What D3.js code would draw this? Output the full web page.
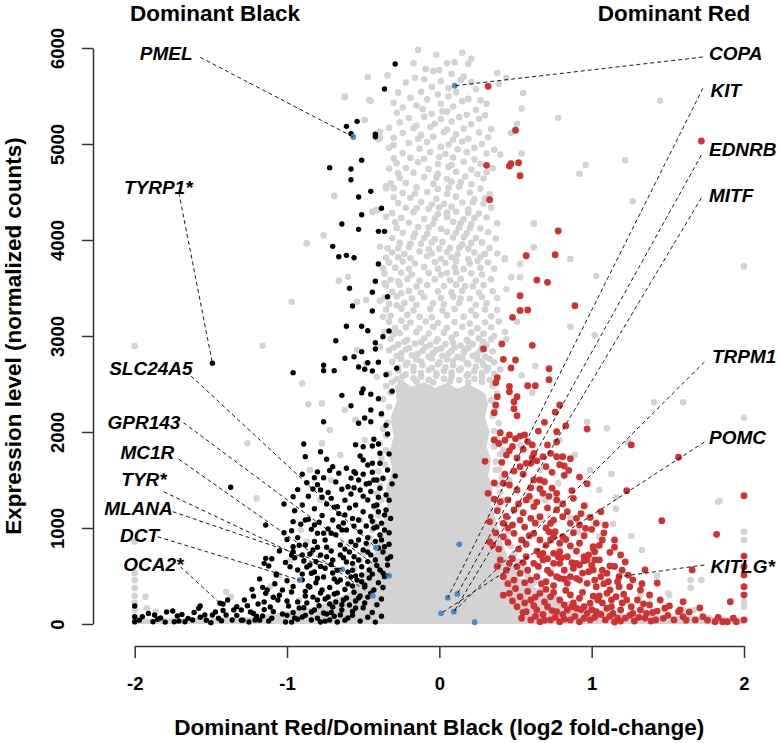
<!DOCTYPE html>
<html><head><meta charset="utf-8">
<script src="https://cdn.jsdelivr.net/npm/d3@7"></script>
<style>body{margin:0;background:#fff;} svg{display:block;font-family:"Liberation Sans",Arial,Helvetica,sans-serif;}</style>
</head><body><svg id="chart" width="780" height="743"></svg>
<script>
// ---------- data (x = log2 fold-change, y = normalized counts) ----------
const xTicks = [-2, -1, 0, 1, 2];
const yTicks = [0, 1000, 2000, 3000, 4000, 5000, 6000];
const groupTitles = ["Dominant Black", "Dominant Red"];

// outline of the region where grey (non-significant) genes overlap completely
const grayDenseOutline = [[-0.29,2480],[-0.24,2530],[-0.18,2470],[-0.10,2520],[-0.03,2460],[0.05,2510],[0.12,2450],[0.19,2500],[0.26,2440],[0.30,2400],[0.32,2300],[0.30,2150],[0.33,2000],[0.31,1850],[0.34,1700],[0.32,1550],[0.35,1400],[0.34,1250],[0.37,1100],[0.39,950],[0.42,820],[0.46,650],[0.53,479],[0.792,219],[1.186,104],[2.0,62],[2.0,0],[-2.0,0],[-2.0,52],[-1.243,73],[-0.784,188],[-0.587,333],[-0.455,615],[-0.40,850],[-0.37,1031],[-0.34,1250],[-0.35,1420],[-0.31,1600],[-0.33,1780],[-0.30,1950],[-0.32,2150],[-0.28,2320]];

const grayPoints = [
// upper cloud
[-0.14,5980],[-0.02,5930],[0.15,5950],[0.21,5890],[-0.17,5840],[0.05,5840],[0.10,5850],[0.19,5835],
[-0.09,5780],[-0.04,5760],[0.00,5770],[0.38,5740],
[-0.34,5715],[0.08,5730],[0.16,5700],[-0.47,5695],[-0.16,5690],[-0.10,5675],[0.44,5690],
[-0.22,5640],[0.01,5655],[0.14,5665],[0.21,5645],[0.39,5625],
[-0.05,5595],[0.06,5580],[0.24,5570],[-0.27,5535],[-0.12,5545],[-0.01,5515],[0.11,5540],[0.55,5530],
[-0.19,5480],[-0.08,5465],[0.06,5495],[0.19,5470],[-0.62,5490],[0.27,5455],
[-0.30,5430],[0.01,5420],[0.15,5445],[0.31,5420],[-0.45,5450],[-0.15,5400],
[-0.24,5380],[-0.11,5365],[0.09,5390],[0.24,5355],[0.54,5370],[0.02,5340],
[-0.28,5325],[-0.05,5315],[0.05,5335],[0.18,5305],[0.30,5300],
[-0.20,5270],[-0.10,5285],[0.01,5260],[0.13,5280],[0.26,5260],
[-0.26,5225],[-0.03,5210],[0.08,5235],[0.21,5205],[0.51,5210],[-0.49,5250],[-0.15,5190],
[-0.33,5170],[-0.17,5165],[-0.06,5180],[0.16,5160],[0.34,5155],[0.05,5150],
[-0.24,5115],[0.03,5125],[0.11,5100],[0.26,5120],[0.47,5115],[-0.39,5130],[-0.12,5095],
[-0.30,5065],[-0.14,5055],[-0.04,5075],[0.19,5055],[0.32,5070],[-0.40,5050],[0.09,5045],
[-0.20,5010],[-0.08,5020],[0.06,4995],[0.15,5025],[0.28,5000],[-0.30,4990],
[-0.33,4960],[-0.13,4950],[0.01,4970],[0.12,4945],[0.23,4960],[0.36,4940],
[-0.24,4905],[-0.06,4915],[0.04,4895],[0.18,4915],[0.31,4900],[0.40,4890],[0.54,4900],
[-0.19,4855],[-0.10,4845],[0.09,4860],[0.23,4840],[-0.30,4850],[0.00,4865],
[-0.28,4800],[-0.14,4810],[-0.01,4790],[0.16,4815],[0.27,4795],[0.08,4780],
[-0.22,4750],[-0.07,4740],[0.06,4760],[0.21,4735],[0.35,4750],[-0.33,4745],
[-0.17,4700],[-0.01,4690],[0.11,4710],[0.25,4685],[0.31,4705],[-0.27,4695],
[-0.26,4645],[-0.10,4655],[0.05,4635],[0.17,4660],[0.29,4640],[-0.02,4650],
[-0.22,4595],[-0.04,4585],[0.08,4605],[0.21,4580],[-0.32,4590],[0.14,4600],
[-0.30,4540],[-0.15,4550],[-0.01,4530],[0.13,4555],[0.27,4535],[-0.35,4560],[0.06,4545],
[-0.24,4490],[-0.08,4500],[0.05,4480],[0.20,4495],[0.33,4475],[-0.16,4485],
[-0.19,4440],[-0.02,4430],[0.11,4450],[0.23,4425],[-0.69,4460],[-0.30,4445],[0.30,4435],
[-0.27,4385],[-0.12,4395],[0.03,4375],[0.15,4390],[0.29,4380],[-0.05,4370],[0.22,4390],
[-0.22,4335],[-0.07,4325],[0.08,4345],[0.19,4320],[0.34,4335],[-0.15,4330],[0.00,4340],
[-0.31,4280],[-0.17,4290],[-0.01,4270],[0.11,4295],[0.26,4275],[-0.44,4295],[-0.41,4310],[0.05,4285],[0.19,4280],
[-0.25,4230],[-0.10,4220],[0.05,4240],[0.16,4215],[0.31,4235],[-0.35,4242],[-0.03,4225],[0.23,4230],
[-0.20,4180],[-0.04,4170],[0.09,4190],[0.21,4165],[0.38,4175],[0.62,4170],[-0.29,4185],[0.14,4175],
[-0.28,4125],[-0.14,4135],[0.01,4115],[0.13,4130],[0.27,4120],[-0.07,4130],[0.20,4125],
[-0.24,4075],[-0.08,4065],[0.05,4085],[0.18,4070],[0.32,4080],[-0.76,4050],[-0.16,4070],[0.11,4075],
[-0.31,4020],[-0.17,4030],[-0.03,4010],[0.09,4025],[0.24,4020],[0.37,4015],[-0.10,4020],[0.16,4030],
[-0.26,3970],[-0.12,3960],[0.02,3980],[0.15,3955],[0.28,3975],[-0.87,3965],[-0.05,3975],[0.21,3970],[-0.19,3960],
[-0.34,3915],[-0.20,3925],[-0.07,3905],[0.07,3920],[0.19,3910],[0.33,3915],[-0.39,3930],[0.62,3925],[0.00,3910],[0.13,3920],[-0.27,3915],
[-0.31,3870],[-0.23,3855],[-0.13,3880],[-0.05,3860],[0.05,3875],[0.12,3850],[0.23,3870],[0.30,3855],[0.38,3860],
[-0.27,3820],[-0.19,3810],[-0.08,3830],[0.01,3805],[0.08,3820],[0.19,3800],[0.27,3825],[0.43,3800],[-0.35,3815],
[-0.33,3765],[-0.24,3775],[-0.16,3755],[-0.03,3770],[0.04,3760],[0.11,3780],[0.20,3755],[0.32,3765],[0.53,3750],[0.25,3780],
[-0.29,3710],[-0.20,3700],[-0.10,3720],[-0.01,3700],[0.10,3715],[0.16,3695],[0.27,3710],[0.36,3700],[-0.37,3705],
[-0.36,3650],[-0.25,3660],[-0.18,3640],[-0.07,3655],[0.01,3640],[0.11,3665],[0.21,3650],[0.28,3640],[0.47,3611],[0.05,3655],
[-0.32,3585],[-0.21,3595],[-0.13,3575],[-0.03,3590],[0.07,3580],[0.14,3595],[0.24,3575],[0.34,3590],[-0.27,3570],
[-0.35,3525],[-0.26,3535],[-0.15,3515],[-0.08,3530],[0.03,3520],[0.11,3535],[0.22,3515],[0.29,3530],[0.44,3487],[0.17,3520],
[-0.31,3460],[-0.20,3470],[-0.12,3450],[-0.01,3465],[0.08,3455],[0.15,3470],[0.26,3450],[0.35,3465],[-0.25,3445],
[-0.36,3400],[-0.28,3410],[-0.18,3390],[-0.10,3405],[0.01,3395],[0.09,3410],[0.20,3390],[0.28,3405],[0.38,3395],[0.14,3390],
[-0.33,3335],[-0.23,3345],[-0.15,3325],[-0.04,3340],[0.03,3330],[0.13,3345],[0.24,3325],[0.31,3340],[-0.28,3320],
[-0.35,3275],[-0.25,3285],[-0.17,3265],[-0.06,3280],[0.02,3265],[0.10,3280],[0.21,3265],[0.30,3275],[0.38,3270],
[-0.32,3210],[-0.21,3220],[-0.13,3200],[0.05,3215],[0.16,3200],[0.24,3215],[0.34,3205],[-0.37,3200],[-0.05,3195],
[-0.33,3150],[-0.25,3160],[0.30,3140],[0.39,3150],[-0.29,3083],[0.34,3090],[-0.30,3020],[0.36,3000],
[-0.19,3140],[-0.09,3150],[-0.01,3135],[0.10,3145],[0.20,3130],
[-0.22,3090],[-0.13,3080],[-0.04,3095],[0.05,3085],[0.15,3095],[0.25,3080],
[-0.26,3030],[-0.15,3040],[-0.07,3025],[0.03,3035],[0.11,3020],[0.21,3035],[0.29,3025],
[-0.32,2970],[-0.21,2960],[-0.10,2975],[-0.01,2965],[0.08,2980],[0.18,2960],[0.26,2975],[0.34,2965],
[-0.23,2940],[-0.12,2935],[-0.02,2945],[0.09,2930],[0.19,2940],[0.29,2935],
[-0.27,2910],[-0.16,2920],[-0.06,2905],[0.04,2915],[0.14,2900],[0.22,2915],[0.31,2905],
[-0.30,2880],[-0.20,2875],[-0.09,2885],[0.01,2870],[0.10,2880],[0.19,2875],[0.28,2885],
[-0.33,2850],[-0.22,2860],[-0.11,2845],[-0.02,2855],[0.08,2845],[0.17,2860],[0.27,2850],[0.35,2840],
[-0.25,2820],[-0.14,2815],[-0.04,2825],[0.06,2815],[0.16,2825],[0.25,2815],
[-0.28,2790],[-0.18,2800],[-0.07,2785],[0.02,2795],[0.12,2780],[0.22,2795],[0.30,2785],
[-0.25,2760],[-0.15,2755],[-0.05,2765],[0.05,2755],[0.15,2765],[0.25,2755],[0.33,2760],
[-0.31,2730],[-0.21,2720],[-0.12,2735],[0.00,2725],[0.09,2740],[0.18,2720],[0.28,2735],[0.36,2725],
[-0.22,2700],[-0.11,2695],[-0.01,2705],[0.09,2695],[0.19,2705],[0.29,2695],
[-0.27,2670],[-0.17,2680],[-0.05,2665],[0.04,2675],[0.14,2660],[0.24,2680],[0.32,2665],
[-0.27,2640],[-0.17,2635],[-0.07,2645],[0.03,2635],[0.13,2645],[0.23,2635],[0.31,2640],
[-0.33,2610],[-0.22,2600],[-0.12,2615],[-0.02,2605],[0.08,2620],[0.19,2600],[0.28,2615],[0.36,2605],
[-0.24,2580],[-0.12,2575],[-0.02,2585],[0.08,2575],[0.18,2585],[0.28,2575],
[-0.28,2550],[-0.17,2560],[-0.07,2545],[0.03,2555],[0.13,2540],[0.23,2555],[0.33,2545],
[-0.31,2520],[-0.25,2515],[-0.15,2525],[-0.04,2515],[0.07,2525],[0.19,2515],[0.28,2520],
// edges of the dense core
[-0.35,2480],[-0.32,2410],[-0.37,2340],[-0.33,2260],[-0.38,2180],[-0.34,2100],[-0.37,2030],[-0.35,1960],
[-0.39,1880],[-0.35,1810],[-0.38,1730],[-0.36,1660],[-0.40,1590],[-0.37,1510],[-0.39,1440],[-0.41,1360],
[-0.38,1290],[-0.42,1210],[-0.40,1130],[-0.43,1060],[-0.44,980],[-0.46,900],[-0.47,820],[-0.50,740],[-0.52,660],[-0.56,580],
[0.35,2480],[0.38,2400],[0.34,2330],[0.37,2250],[0.35,2170],[0.39,2090],[0.36,2010],[0.38,1930],
[0.36,1850],[0.40,1770],[0.37,1690],[0.39,1610],[0.41,1530],[0.38,1450],[0.40,1370],[0.42,1290],
[0.39,1210],[0.43,1130],[0.41,1050],[0.45,970],[0.44,890],[0.47,810],[0.49,730],[0.52,650],[0.55,570],
[0.58,500],[0.62,430],[0.67,355],[0.75,285],[0.85,205],[0.96,155],[1.08,120],
// left periphery
[-2.00,2895],[-1.16,2898],[-0.97,3357],[-0.66,3575],[-0.60,3617],[-0.90,2506],[-0.86,2288],[-0.77,2298],
[-1.26,1882],[-0.77,1882],[-0.71,1500],[-1.20,1309],[-0.54,2853],[-0.48,2715],[-0.41,2575],[-0.39,2888],
[-0.36,3044],[-0.48,3375],[-0.39,3367],[-0.36,3548],[-0.54,3357],[-0.69,4458],[-0.44,4294],[-0.41,4313],
[-0.87,3966],[-0.35,4538],[-0.62,5493],[-0.49,5250],[-0.46,5458],[-0.39,5070],
[-2.00,857],[-2.00,531],[-2.00,458],[-2.00,375],[-2.00,292],[-2.00,219],[-2.00,146],[-2.00,73],[-2.00,21],
[-1.93,284],[-1.92,164],[-1.86,128],[-1.40,336],[-1.37,284],[-1.11,389],[-0.91,979],[-0.87,857],
[-1.81,30],[-1.75,30],[-1.68,30],[-1.59,30],[-1.49,30],[-1.31,30],[-1.14,30],[-1.04,30],
[-0.72,2020],[-0.55,2125],[-0.62,2230],[-0.49,1917],[-0.65,1760],[-0.78,1292],[-0.85,1604],[-0.52,1083],
[-0.98,667],[-1.05,510],[-0.92,250],
// right periphery
[1.45,5451],[0.78,5274],[0.96,4781],[0.92,4690],[1.22,4830],[1.27,4406],[0.62,4173],[0.86,3802],
[0.43,3809],[1.03,3625],[2.00,3726],[0.53,3611],[0.53,3750],[0.86,3097],[1.02,3007],[0.51,3149],
[0.43,3042],[0.44,2966],[0.63,2688],[0.54,2591],[0.61,2409],[0.40,2653],[1.41,2309],[1.60,2309],
[2.00,2149],[0.97,2107],[1.10,2038],[1.24,1893],[1.13,1563],[1.16,1320],[1.16,1201],[1.14,1042],
[1.84,1284],[2.00,961],[2.00,875],[1.26,917],[1.33,771],[1.03,1066],[1.05,909],[0.91,961],
[0.86,1101],[0.67,1083],[0.78,1466],[1.43,503],[1.65,458],[1.72,458],[1.51,302],[1.67,146],
[1.32,302],[2.00,232],[2.00,180],[1.60,146],[1.77,59],[1.65,378],[1.50,320],[1.83,1274],
[0.66,1604],[0.89,1760],[0.99,1604],[0.79,1917],[0.69,1292],[1.05,1396],[0.96,1240],[0.53,1865],
[0.46,1500],[0.60,1292],[0.37,1604],[0.42,1813]
];

const blackPoints = [
[-0.29,5833],[-0.36,5573],[-0.54,5236],[-0.61,5184],[-0.58,5107],[-0.42,5101],[-0.42,5076],[-0.51,4830],
[-0.72,4753],[-0.58,4739],[-0.58,4628],[-0.45,4507],[-0.53,4448],[-0.38,4330],[-0.51,4263],[-0.64,4167],
[-0.53,4111],[-0.40,4090],[-0.36,4090],[-0.70,3934],
[-0.66,3826],[-0.61,3840],[-0.56,3815],[-0.40,3750],[-0.42,3570],[-0.59,3497],[-0.44,3455],[-0.34,3409],
[-0.57,3312],[-0.44,3260],[-0.61,3101],[-0.51,3101],[-0.47,3055],[-0.33,3052],[-0.37,2993],[-0.68,2951],
[-0.42,2930],[-0.42,2865],[-0.51,2837],[-0.62,2768],[-0.56,2784],[-0.47,2722],[-0.40,2726],[-0.76,2695],
[-0.53,2677],[-0.49,2653],[-0.44,2635],[-0.28,2664],[-0.76,2639],[-0.69,2639],[-0.96,2618],[-0.35,2597],
[-0.50,2448],[-0.45,2393],[-0.40,2347],[-0.31,2424],[-0.64,2382],[-0.58,2274],[-0.45,2229],[-0.38,2191],
[-0.49,2146],[-0.45,2107],[-0.53,2091],[-0.76,2107],[-0.35,2070],[-0.34,1979],[-0.43,1924],[-0.89,1875],
[-0.55,1868],[-0.50,1847],[-0.44,1854],[-0.40,1875],[-0.51,2409],
[-0.88,1743],[-0.78,1795],[-0.74,1716],[-0.82,1524],[-0.76,1524],[-0.70,1639],[-0.66,1570],[-0.56,1587],
[-0.60,1430],[-0.64,1403],[-0.87,1472],[-0.83,1406],[-0.77,1320],[-0.96,1326],[-1.37,1424],[-0.50,1708],
[-0.44,1674],[-0.39,1674],[-0.43,1500],[-0.37,1518],[-0.39,1414],[-0.35,1344],
[-1.14,1031],[-0.96,1066],[-0.97,972],[-0.96,753],[-1.14,684],[-1.12,604],[-1.07,510],[-1.42,208],
[-1.23,361],[-1.16,382],[-1.13,354],[-1.09,278],[-2.00,188],[-2.00,76],[-2.00,24],[-1.95,76],
[-1.87,94],[-1.88,24],[-1.75,135],[-1.74,24],[-1.65,59],[-1.67,24],[-1.62,42],[-1.58,164],
[-1.57,70],[-1.54,94],[-1.49,94],[-1.50,14],[-1.43,34],[-1.35,146],[-1.33,180],[-1.30,146],
[-0.71,1309],[-0.69,1216],[-0.84,986],[-0.80,945],[-0.76,945],[-0.71,945],[-0.66,1014],[-0.61,979],
[-0.96,805],[-0.97,719],[-1.15,632],[-0.80,799],[-0.85,729],[-0.74,701],[-0.70,667],[-0.89,656],
[-0.85,615],[-0.98,597],[-1.07,521],[-0.75,580],[-0.93,563],[-0.84,528],[-0.80,476],[-1.14,320],[-1.57,188],
[-1.28,250],[-1.24,125],[-1.19,208],[-1.16,83],[-1.11,177],[-1.06,250],[-1.03,104],[-0.99,188],
[-0.97,333],[-0.95,62],[-0.92,167],[-0.88,292],[-0.86,396],[-0.84,125],[-0.80,250],[-0.77,354],
[-0.74,104],[-0.72,208],[-0.69,313],[-0.67,438],[-0.64,146],[-0.61,271],[-0.60,542],[-0.57,396],
[-0.55,167],[-0.53,667],[-0.52,292],[-0.51,510],[-0.49,406],[-0.47,750],[-0.46,563],[-0.42,667],
[-0.40,792],[-0.39,927],[-0.53,875],[-0.59,750],[-0.65,823],[-0.62,1135],[-0.55,1240],[-0.52,1396],
[-0.47,1292],[-0.41,1240],[-0.36,1135],[-0.36,979],[-0.48,1021],[-0.43,1000],[-0.53,1500],[-0.48,1458],
[-0.41,1500],[-0.58,1354],[-0.88,1083],[-0.82,1031],[-0.75,875],[-0.70,1083],[-0.63,1052],[-0.88,823],
[-0.83,771],[-0.78,719],[-0.65,719],[-0.61,646],[-0.87,594],[-0.82,542],[-0.76,490],[-0.70,531],
[-0.65,458],[-0.60,417],[-0.54,458],[-0.43,354],[-0.85,385],[-0.78,323],[-0.73,281],[-0.67,323],
[-0.63,250],[-0.59,198],[-0.53,271],[-0.49,219],[-0.87,219],[-0.82,146],[-0.76,115],[-0.70,177],
[-0.65,94],[-0.90,73],[-0.84,42],[-0.78,21],[-0.72,42],[-0.67,21],[-0.60,62],[-1.01,21],
[-1.12,31],[-1.21,42],[-1.25,21],[-1.40,94],[-1.36,42],[-1.03,354],[-1.47,125],[-1.83,62],
[-1.79,125],[-1.72,83],
[-0.52,1750],[-0.33,1771],[-0.39,1778],[-0.61,1622],[-0.55,1570],[-0.47,1656],[-0.34,1604],[-0.29,1542],
[-0.46,1466],[-0.78,1396],[-0.67,1222],[-0.35,1188],[-0.40,1170],[-0.53,1083],[-0.38,875],[-0.36,805],
[-0.32,701],[-0.34,615],[-0.58,857],[-0.50,771],[-0.57,632],[-0.51,597],[-0.39,563],[-0.36,493],[-0.49,389],
// dense lower arm
[-0.90,1560],[-0.80,1585],[-0.72,1600],[-0.68,1480],[-0.58,1520],[-0.50,1560],[-0.44,1580],[-0.31,1460],
[-0.93,1400],[-0.86,1330],[-0.80,1450],[-0.73,1370],[-0.62,1290],[-0.56,1420],[-0.50,1330],[-0.45,1380],[-0.40,1320],[-0.33,1290],[-1.02,1250],
[-0.95,1180],[-0.90,1240],[-0.82,1200],[-0.77,1130],[-0.74,1250],[-0.66,1150],[-0.59,1210],[-0.57,1100],[-0.50,1170],[-0.45,1120],[-0.43,1230],[-0.38,1050],[-0.32,1100],
[-1.02,950],[-0.93,900],[-0.91,1040],[-0.86,1090],[-0.79,1060],[-0.73,990],[-0.68,930],[-0.64,980],[-0.56,1020],[-0.52,960],[-0.47,900],[-0.44,1070],[-0.41,1010],[-0.33,950],
[-1.05,760],[-1.00,880],[-0.92,820],[-0.90,720],[-0.82,860],[-0.74,800],[-0.71,760],[-0.62,780],[-0.56,700],[-0.55,820],[-0.48,840],[-0.45,720],[-0.42,860],[-0.37,750],[-0.33,830],
[-1.10,680],[-1.01,640],[-0.95,690],[-0.90,520],[-0.81,650],[-0.78,600],[-0.71,620],[-0.67,560],[-0.63,690],[-0.57,560],[-0.55,500],[-0.47,650],[-0.44,520],[-0.41,610],[-0.37,530],[-0.34,680],
[-1.18,470],[-1.08,420],[-1.00,450],[-0.96,390],[-0.90,460],[-0.88,340],[-0.81,430],[-0.72,380],[-0.69,470],[-0.62,360],[-0.58,490],[-0.56,330],[-0.51,440],[-0.46,480],[-0.45,320],[-0.40,430],[-0.37,380],
[-1.22,290],[-1.15,230],[-1.09,130],[-1.05,300],[-1.00,240],[-0.96,120],[-0.93,230],[-0.89,170],[-0.83,280],[-0.79,190],[-0.75,260],[-0.71,120],[-0.68,230],[-0.64,200],[-0.57,130],[-0.55,240],[-0.50,170],[-0.47,280],[-0.44,120],[-0.41,200],[-0.38,260],
[-1.30,40],[-1.20,80],[-1.10,60],[-1.00,90],[-0.97,20],[-0.93,50],[-0.88,90],[-0.80,60],[-0.75,30],[-0.69,80],[-0.62,40],[-0.57,90],[-0.52,30],[-0.47,70],[-0.42,20],[-0.38,80],
[-1.97,40],[-1.91,110],[-1.85,50],[-1.80,20],[-1.71,30],[-1.69,100],[-1.61,120],[-1.53,40],[-1.45,60],[-1.42,140],[-1.39,250],[-1.33,90],[-1.29,40],[-1.26,190],[-1.22,110],[-1.18,40],[-1.15,150],
// labelled black genes
[-1.49,2716],[-1.44,216]
];

const redPoints = [
[0.32,5601],[0.50,5143],[0.31,4778],[0.46,4771],[0.47,4795],[0.52,4805],[0.53,4670],[0.33,4420],
[0.78,4094],[1.72,5031],[0.57,3836],[0.76,3847],[0.64,3583],[0.71,3559],[0.53,3420],[0.89,3316],
[0.53,3266],[0.58,3271],[0.48,3195],[0.29,2865],[0.41,2917],[0.61,2903],[0.42,2757],[0.50,2750],
[0.47,2667],[0.72,2659],[0.72,2545],[0.38,2566],[0.37,2514],[0.58,2482],[0.63,2482],[0.46,2476],
[0.46,2420],[0.51,2368],[0.38,2368],[0.49,2316],[0.49,2243],[0.51,2170],[0.37,2281],[0.36,2201],
[0.79,2281],[0.76,2208],[0.69,2101],[0.83,2063],[0.97,2031],[0.40,1993],[0.50,1930],[0.56,1969],
[0.65,2010],[0.36,1917],[0.43,1914],[0.46,1805],[0.51,1729],[0.61,1865],[0.77,1896],[0.71,1865],
[0.61,1732],[0.60,1674],[0.77,1743],[0.81,1743],[0.86,1722],[0.82,1646],[0.30,1695],[0.41,1684],
[0.49,1594],[0.62,1500],[0.69,1482],[0.82,1549],[0.97,1461],[1.26,1865],[1.57,1737],[1.23,1389],
[2.00,1337],[1.46,1076],[1.82,934],[1.66,563],[1.18,493],[2.00,708],[2.00,597],[2.00,510],
[2.00,389],[2.00,302],[1.91,232],[1.60,232],[1.48,164],[1.57,128],[1.60,76],[1.73,76],
[1.81,24],[1.86,24],[1.95,24],[2.00,42],[1.42,42],[1.47,59],[1.54,42],[1.68,42],[1.89,24],
[1.10,320],[1.16,284],[1.23,250],[1.30,250],[1.58,146],[1.32,146],[1.36,111],[1.27,111],
[1.19,146],[1.14,111],[1.10,164],[1.18,389],[1.25,389],[1.10,528],[1.11,441],[0.98,545],
[1.06,493],[0.73,528],[0.79,476],[0.86,493],[0.92,458],[1.00,986],[0.88,951],[0.76,961],
[0.81,909],[0.73,875],[1.07,875],[0.86,813],[1.01,805],[1.02,753],[1.12,747],[0.79,753],
[0.68,736],[0.95,701],[0.87,639],[0.92,615],[0.75,632],[1.02,667],[0.81,1118],[0.75,1083],
[0.86,1049],[0.92,1031],[0.74,1414],[0.77,1361],[0.88,1309],[0.95,1229],
[0.46,1969],[0.53,1958],[0.77,2003],[0.62,1778],[0.53,1639],[0.57,1674],[0.68,1743],[0.73,1778],
[0.66,1500],[0.42,1466],[0.46,1448],[0.51,1396],[0.32,1361],[0.40,1274],[0.45,1292],[0.49,1188],
[0.57,1292],[0.62,1222],[0.68,1361],[0.77,1292],[0.77,1188],[0.33,1066],[0.42,1049],[0.48,1031],
[0.53,1083],[0.60,1101],[0.66,1118],[0.73,1049],[0.90,1101],[0.96,997],[1.03,1049],[0.33,857],
[0.35,823],[0.42,909],[0.49,945],[0.54,875],[0.62,945],[0.66,875],[0.75,909],[0.79,841],
[0.92,841],[1.01,789],[0.40,667],[0.46,632],[0.51,597],[0.57,701],[0.62,632],[0.68,667],
[0.75,736],[0.79,632],[0.84,701],[0.90,632],[0.97,667],[1.01,563],[0.42,493],[0.49,458],
[0.53,528],[0.60,458],[0.64,493],[0.70,441],[0.77,493],[0.84,424],[0.90,476],[0.97,424],
[1.03,389],[0.46,320],[0.53,284],[0.60,250],[0.66,320],[0.73,284],[0.79,250],[0.86,302],
[0.92,268],[0.99,216],[1.04,250],[0.51,180],[0.57,128],[0.64,146],[0.71,180],[0.77,128],
[0.84,146],[0.90,164],[0.97,111],[1.03,128],[0.60,42],[0.66,24],[0.73,42],[0.79,24],
[0.86,42],[0.92,24],[0.99,42],
[1.09,42],[1.15,21],[1.22,62],[1.28,31],[1.35,62],[1.38,198],[1.43,135],[1.13,250],
[1.20,219],[1.05,292],[1.12,354],[1.02,458],[1.24,510],[1.32,354],[1.38,302],[1.45,250],
[1.51,188],[1.64,125],[1.71,167],[1.09,1031],[1.15,875],[1.19,719],[1.05,667],[1.12,604],
[1.22,646],[1.35,563],[1.43,427],
// dense lower arm
[0.39,1880],[0.44,1760],[0.48,1850],[0.55,1820],[0.58,1900],[0.64,1700],[0.70,1640],[0.74,1580],[0.79,1660],[0.85,1600],[0.92,1530],[0.55,1560],[0.43,1560],[0.36,1470],[0.60,1420],[0.66,1410],
[0.36,1300],[0.38,1180],[0.44,1120],[0.52,1250],[0.55,1160],[0.59,1330],[0.64,1270],[0.71,1210],[0.72,1330],[0.81,1250],[0.84,1170],[0.87,1390],[0.93,1150],[0.99,1110],[1.06,1170],[0.63,1050],[0.70,1000],[0.56,1010],[0.45,1000],
[0.37,950],[0.39,780],[0.45,850],[0.52,780],[0.57,830],[0.59,920],[0.64,760],[0.70,820],[0.72,960],[0.78,700],[0.83,880],[0.90,760],[0.95,920],[0.98,720],[1.05,820],[1.08,950],[1.15,800],[0.66,720],
[0.38,600],[0.44,560],[0.48,680],[0.55,640],[0.58,560],[0.65,600],[0.71,560],[0.71,680],[0.80,690],[0.82,560],[0.88,580],[0.94,530],[0.95,660],[1.00,610],[1.07,560],[1.15,600],[1.20,560],[1.27,460],[1.33,420],[0.45,420],[0.56,430],[0.67,420],[0.75,400],[0.82,470],[1.08,420],[1.17,440],
[0.42,300],[0.48,240],[0.50,370],[0.56,220],[0.58,340],[0.63,280],[0.69,230],[0.70,360],[0.75,330],[0.82,200],[0.83,350],[0.88,220],[0.94,330],[0.95,180],[1.01,290],[1.07,220],[1.13,180],[1.21,310],[1.26,180],[1.34,210],[1.40,120],[0.55,120],[0.62,190],[0.68,100],[0.74,140],[0.81,100],[0.87,180],[0.93,150],[1.00,150],[1.06,100],[1.17,60],
[0.54,60],[0.63,80],[0.69,40],[0.76,70],[0.82,50],[0.89,80],[0.95,60],[1.02,70],[1.12,80],[1.19,30],[1.25,90],[1.31,70],[1.39,30],[1.50,90],[1.62,40],[1.76,40],[1.83,70],[1.93,60]
];

const bluePoints = [[-0.565,5073],[0.101,5607],[-0.416,795],[-0.637,570],[-0.330,503],[-0.437,295],[-0.917,458],[0.131,830],[0.055,274],[0.118,313],[0.011,111],[0.095,128],[0.232,18]];

// gene annotations: label anchor, leader start and the gene's point (all in data units)
const geneLabels = [
 {gene:"PMEL",    side:"left",  at:[-1.62,5948], from:[-1.57,5903], to:[-0.565,5073]},
 {gene:"TYRP1*",  side:"left",  at:[-1.62,4555], from:[-1.71,4492], to:[-1.49,2716]},
 {gene:"SLC24A5", side:"left",  at:[-1.62,2667], from:[-1.63,2583], to:[-0.416,795]},
 {gene:"GPR143",  side:"left",  at:[-1.70,2107], from:[-1.68,2097], to:[-0.330,503]},
 {gene:"MC1R",    side:"left",  at:[-1.74,1795], from:[-1.71,1716], to:[-0.437,295]},
 {gene:"TYR*",    side:"left",  at:[-1.79,1507], from:[-1.81,1378], to:[-0.75,580]},
 {gene:"MLANA",   side:"left",  at:[-1.75,1205], from:[-1.75,1170], to:[-0.637,570]},
 {gene:"DCT",     side:"left",  at:[-1.84,927],  from:[-1.85,909],  to:[-0.917,458]},
 {gene:"OCA2*",   side:"left",  at:[-1.68,625],  from:[-1.70,597],  to:[-1.44,216]},
 {gene:"COPA",    side:"right", at:[1.77,5945],  from:[1.73,5906],  to:[0.101,5607]},
 {gene:"KIT",     side:"right", at:[1.78,5563],  from:[1.73,5580],  to:[0.055,274]},
 {gene:"EDNRB",   side:"right", at:[1.77,4948],  from:[1.72,4885],  to:[0.118,313]},
 {gene:"MITF",    side:"right", at:[1.77,4469],  from:[1.72,4438],  to:[0.095,128]},
 {gene:"TRPM1",   side:"right", at:[1.79,2792],  from:[1.74,2729],  to:[0.095,128]},
 {gene:"POMC",    side:"right", at:[1.77,1951],  from:[1.74,1896],  to:[0.011,111]},
 {gene:"KITLG*",  side:"right", at:[1.78,604],   from:[1.74,615],   to:[1.182,493]}
];

// ---------- drawing ----------
const svg = d3.select("#chart");
const x = d3.scaleLinear().domain([-2, 2]).range([134.7, 744]);
const y = d3.scaleLinear().domain([0, 6000]).range([624, 48]);

const plot = svg.append("g");
plot.append("path")
  .datum(grayDenseOutline)
  .attr("d", d3.line().x(d => x(d[0])).y(d => y(d[1])).curve(d3.curveLinearClosed))
  .attr("fill", "#d3d3d3");

function dots(data, r, color) {
  plot.append("g").selectAll("circle").data(data).join("circle")
    .attr("cx", d => x(d[0])).attr("cy", d => y(d[1])).attr("r", r).attr("fill", color);
}
dots(grayPoints, 3.3, "#d3d3d3");
dots(blackPoints, 2.7, "#000000");
dots(redPoints, 3.4, "#d03131");
dots(bluePoints, 2.9, "#4a8cc9");

// leader lines and gene labels
const ann = svg.append("g");
ann.selectAll("line").data(geneLabels).join("line")
  .attr("x1", d => x(d.from[0])).attr("y1", d => y(d.from[1]))
  .attr("x2", d => x(d.to[0])).attr("y2", d => y(d.to[1]))
  .attr("stroke", "#000").attr("stroke-width", 0.9).attr("stroke-dasharray", "4,3");
ann.selectAll("text").data(geneLabels).join("text")
  .attr("x", d => x(d.at[0])).attr("y", d => y(d.at[1]))
  .attr("dy", "0.36em")
  .attr("text-anchor", d => d.side === "left" ? "end" : "start")
  .attr("font-size", "19px").attr("font-weight", "bold").attr("font-style", "italic")
  .attr("fill", "#000")
  .text(d => d.gene);

// axes
const yAxis = svg.append("g").attr("transform", "translate(93,0)")
  .call(d3.axisLeft(y).tickValues(yTicks).tickSize(11).tickSizeOuter(0).tickFormat(d => String(d)));
yAxis.selectAll("text").attr("x", null).attr("dy", null)
  .attr("transform", "translate(-29,0) rotate(-90)").attr("text-anchor", "middle");

const xAxis = svg.append("g").attr("transform", "translate(0,646)")
  .call(d3.axisBottom(x).tickValues(xTicks).tickSize(12).tickSizeOuter(0).tickFormat(d => String(d)));
xAxis.selectAll("text").attr("y", 44).attr("dy", null);

[yAxis, xAxis].forEach(a => {
  a.select(".domain").attr("stroke", "#333").attr("stroke-width", 1.5);
  a.selectAll(".tick line").attr("stroke", "#333").attr("stroke-width", 1.5);
  a.selectAll("text").attr("font-size", "18.5px").attr("font-weight", "bold")
    .attr("font-family", "'Liberation Sans', Arial, sans-serif").attr("fill", "#000");
});

// titles
svg.append("text").attr("x", 215).attr("y", 21).attr("text-anchor", "middle")
  .attr("font-size", "22.5px").attr("font-weight", "bold").text(groupTitles[0]);
svg.append("text").attr("x", 674).attr("y", 21).attr("text-anchor", "middle")
  .attr("font-size", "22.5px").attr("font-weight", "bold").text(groupTitles[1]);
svg.append("text").attr("x", x(0)).attr("y", 735).attr("text-anchor", "middle")
  .attr("font-size", "22.5px").attr("font-weight", "bold")
  .text("Dominant Red/Dominant Black (log2 fold-change)");
svg.append("text").attr("transform", "translate(21,336) rotate(-90)").attr("text-anchor", "middle")
  .attr("font-size", "22.5px").attr("font-weight", "bold")
  .text("Expression level (normalized counts)");
</script>
</body></html>
